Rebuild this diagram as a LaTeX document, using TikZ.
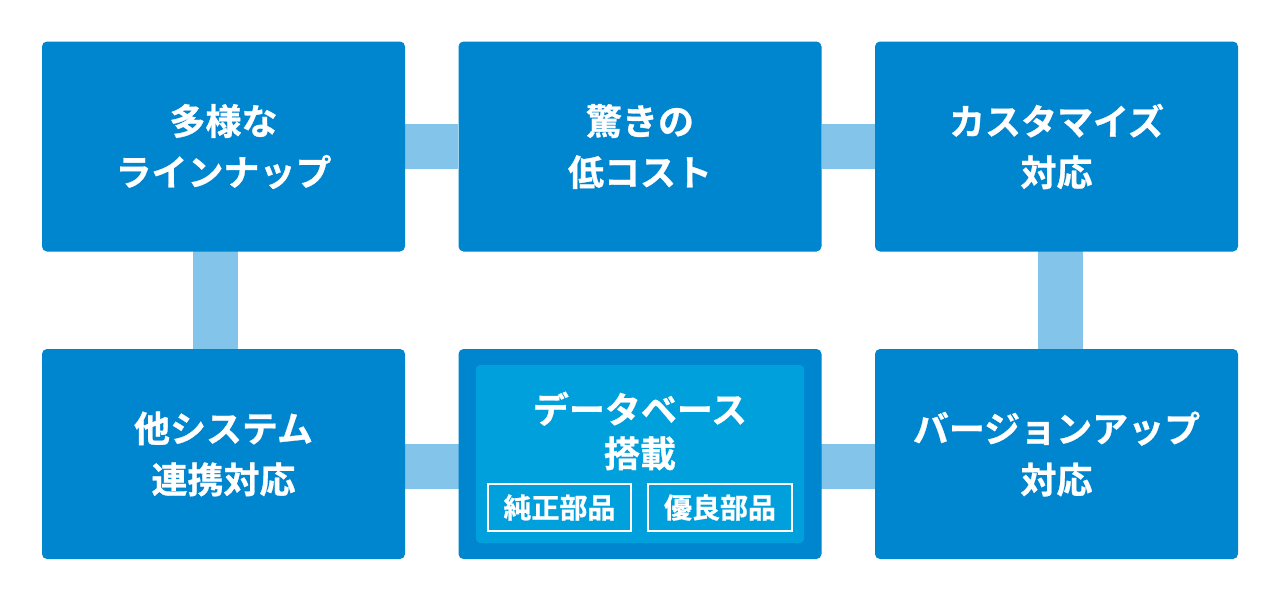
\documentclass[tikz,border=0pt]{standalone}
\usepackage{fontspec}
\setmainfont{Noto Sans CJK JP Bold}[FakeBold=0.8]
\usetikzlibrary{backgrounds}
\definecolor{boxblue}{HTML}{0085CF}
\definecolor{barblue}{HTML}{82C4EA}
\definecolor{innerblue}{HTML}{00A0DC}
\tikzset{
  mainbox/.style={fill=boxblue, draw=none, rounded corners=5pt, minimum width=363pt, minimum height=210pt, text=white, align=center, font=\fontsize{36}{51}\selectfont, inner sep=0pt},
  bar/.style={draw=barblue, line width=45pt},
  innerbox/.style={fill=innerblue, draw=none, rounded corners=4pt, minimum width=328pt, minimum height=178pt, inner sep=0pt},
  tagbox/.style={draw=white, line width=1.8pt, minimum height=47pt, text=white, font=\fontsize{28}{30}\selectfont, inner sep=0pt},
  titletext/.style={text=white, align=center, font=\fontsize{36}{44}\selectfont, inner sep=0pt}
}
\begin{document}
\begin{tikzpicture}[x=1pt,y=-1pt]
\useasboundingbox (0,0) rectangle (1280,600);
\node[mainbox] (tl) at (223.5,146.5) {多様な\\ラインナップ};
\node[mainbox] (tm) at (640,146.5) {驚きの\\低コスト};
\node[mainbox] (tr) at (1056.5,146.5) {カスタマイズ\\対応};
\node[mainbox] (bl) at (223.5,454) {他システム\\連携対応};
\node[mainbox] (bm) at (640,454) {};
\node[mainbox] (br) at (1056.5,454) {バージョンアップ\\対応};
\node[innerbox] (bmi) at (640,454) {};
\node[titletext] (bmt) at (640,431) {データベース\\搭載};
\node[tagbox, minimum width=143pt] (tag1) at (559.5,507.5) {純正部品};
\node[tagbox, minimum width=144pt] (tag2) at (720,507.5) {優良部品};
\begin{scope}[on background layer]
\draw[bar] (tl) -- (tm);
\draw[bar] (tm) -- (tr);
\draw[bar] ([xshift=-8pt]tl.center) -- ([xshift=-8pt]bl.center);
\draw[bar] ([xshift=4pt]tr.center) -- ([xshift=4pt]br.center);
\draw[bar] ([yshift=-12pt]bl.center) -- ([yshift=-12pt]bm.center);
\draw[bar] ([yshift=-12pt]bm.center) -- ([yshift=-12pt]br.center);
\end{scope}
\end{tikzpicture}
\end{document}
